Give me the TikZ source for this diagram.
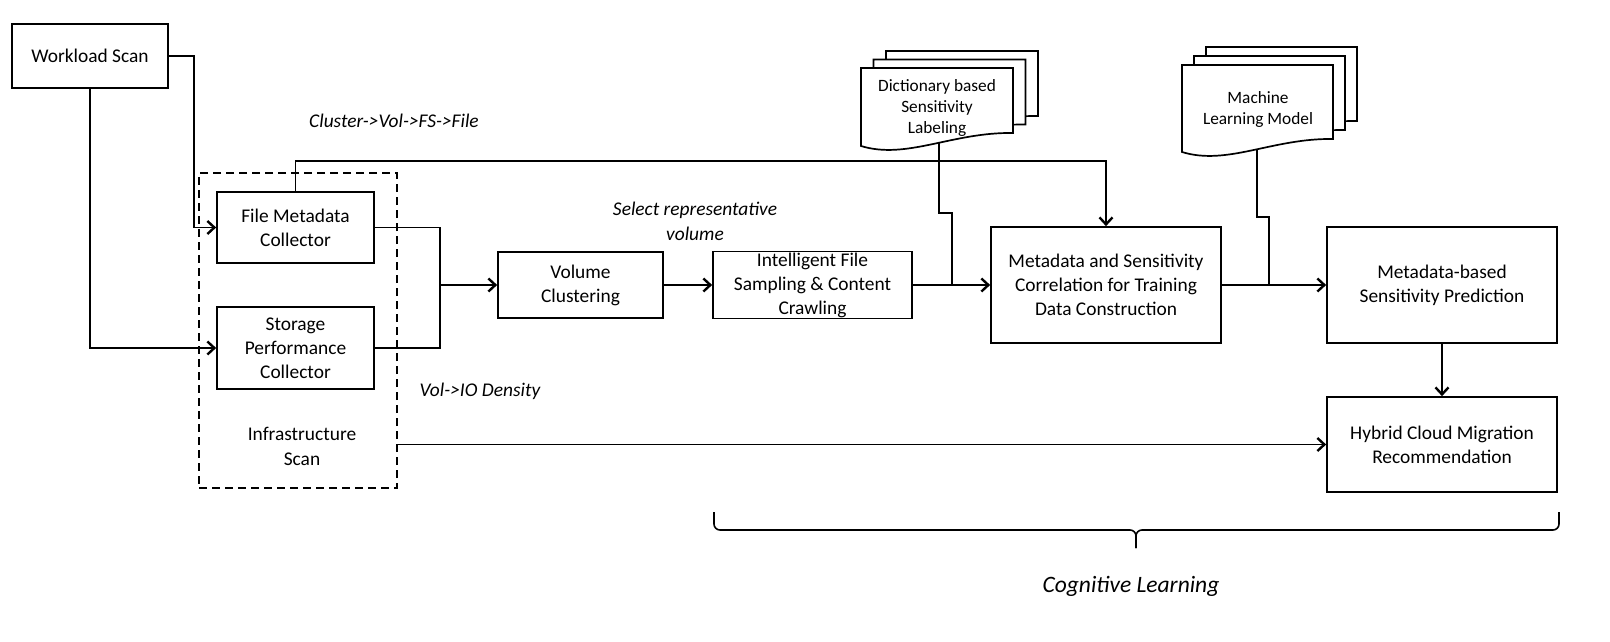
\documentclass[tikz,border=0pt]{standalone}
\usepackage{fontspec}
\setmainfont{Carlito}
\usetikzlibrary{arrows.meta}
\newcommand{\mydoc}[4]{%
  \draw[docline] (#1,#2) -- ({#1+#3},#2) -- ({#1+#3},{#2+#4-13})
    .. controls ({#1+0.6*#3},{#2+#4-14}) and ({#1+0.3*#3},{#2+#4+14}) .. (#1,{#2+#4}) -- cycle;}
\begin{document}
\begin{tikzpicture}[x=1pt,y=-1pt,
  box/.style={draw, line width=1.7pt, align=center, inner sep=0pt,
    font=\fontsize{19.4}{24}\selectfont},
  conn/.style={line width=1.7pt},
  arr/.style={-{Straight Barb[length=7pt,width=13pt,line width=2.4pt]}},
  docline/.style={draw, fill=white, line width=1.7pt},
  doctext/.style={align=center, inner sep=0pt, font=\fontsize{17.3}{21}\selectfont},
  lab/.style={inner sep=0pt, align=center, font=\fontsize{19.4}{25}\selectfont\itshape},
  dashbox/.style={draw, line width=1.6pt, dash pattern=on 8pt off 5pt, inner sep=0pt}]
\useasboundingbox (0,0) rectangle (1610,641);

% boxes
\node[box, minimum width=156pt, minimum height=64pt] (ws) at (90,56) {Workload Scan};
\node[dashbox, minimum width=198pt, minimum height=315pt] (infra) at (298,330.5) {};
\node[box, minimum width=157pt, minimum height=71pt] (fmc) at (295.5,227.5) {File Metadata\\Collector};
\node[box, minimum width=157pt, minimum height=82pt] (spc) at (295.5,348) {Storage\\Performance\\Collector};
\node[inner sep=0pt, align=center, font=\fontsize{19.4}{25}\selectfont] (infratxt) at (302,446) {Infrastructure\\Scan};
\node[box, minimum width=165pt, minimum height=66pt] (vc) at (580.5,285) {Volume\\Clustering};
\node[box, minimum width=199pt, minimum height=67pt] (ifs) at (812.5,285) {Intelligent File\\Sampling \& Content\\Crawling};
\node[box, minimum width=230pt, minimum height=116pt] (mc) at (1106,285) {Metadata and Sensitivity\\Correlation for Training\\Data Construction};
\node[box, minimum width=230pt, minimum height=116pt] (mb) at (1442,285) {Metadata-based\\Sensitivity Prediction};
\node[box, minimum width=230pt, minimum height=95pt] (hc) at (1442,444.5) {Hybrid Cloud Migration\\Recommendation};

% junctions
\coordinate (j1) at (440,285);
\coordinate (j2) at (952,285);
\coordinate (j3) at (1269,285);
\coordinate (dictb) at (939,140);
\coordinate (mlb) at (1257,146);

% connectors
\draw[conn,arr] (ws.east) -- ++(25,0) |- (fmc.west);
\draw[conn,arr] (ws.south) |- (spc.west);
\draw[conn,arr] (fmc.north) -- ++(0,-30) -| (mc.north);
\draw[conn] (fmc.east) -| (j1);
\draw[conn] (spc.east) -| (j1);
\draw[conn,arr] (j1) -- (vc.west);
\draw[conn,arr] (vc.east) -- (ifs.west);
\draw[conn,arr] (ifs.east) -- (mc.west);
\draw[conn,arr] (mc.east) -- (mb.west);
\draw[conn,arr] (mb.south) -- (hc.north);
\draw[conn,arr] (infra.east |- hc.west) -- (hc.west);
\draw[conn] (dictb) -- ++(0,73) -| (j2);
\draw[conn] (mlb) -- ++(0,71) -| (j3);

% documents
\mydoc{886}{51}{152}{78}
\mydoc{873.5}{59.5}{152}{78}
\mydoc{861}{68}{152}{78}
\node[doctext] (dict) at (937,108) {Dictionary based\\Sensitivity\\Labeling};
\mydoc{1206}{47}{151}{87}
\mydoc{1194}{56}{151}{87}
\mydoc{1182}{65}{151}{87}
\node[doctext] (ml) at (1258,109) {Machine\\Learning Model};

% labels
\node[lab] (l1) at (394,121) {Cluster->Vol->FS->File};
\node[lab] (l2) at (695,221) {Select representative\\volume};
\node[lab] (l3) at (480,391) {Vol->IO Density};
\node[lab, font=\fontsize{23.5}{27}\selectfont\itshape] (l4) at (1131,586) {Cognitive Learning};

% brace
\draw[line width=1.6pt, rounded corners=6pt] (714,512) |- (1136,530) -- (1136,548);
\draw[line width=1.6pt, rounded corners=6pt] (1559,512) |- (1136,530) -- (1136,548);
\end{tikzpicture}
\end{document}
